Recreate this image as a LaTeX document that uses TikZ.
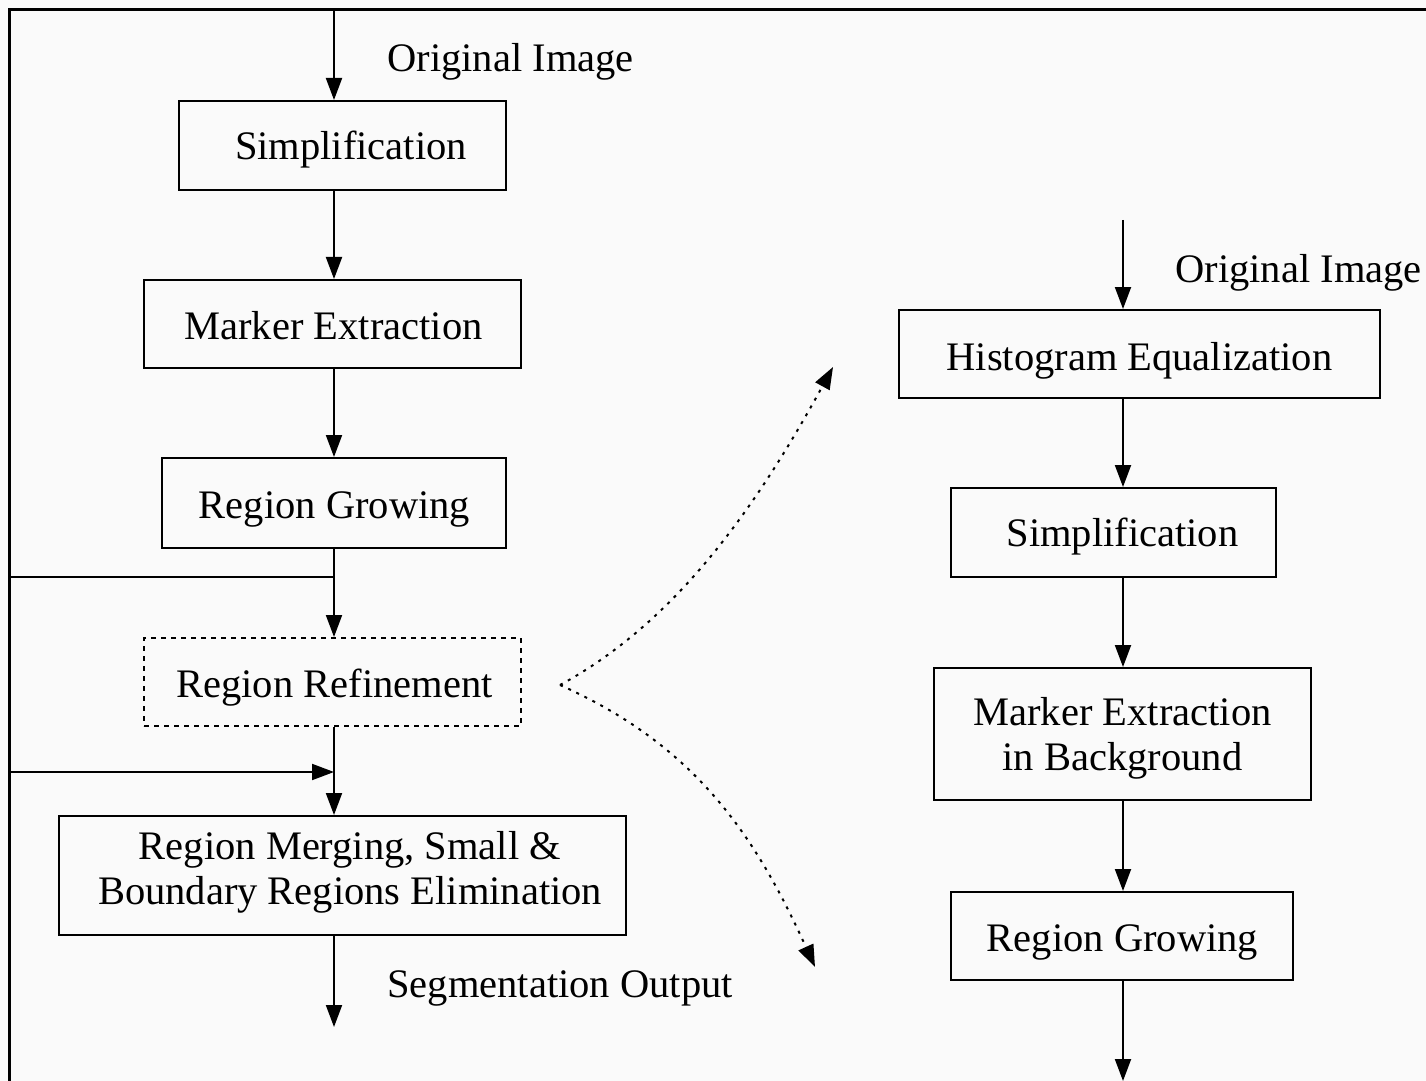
\documentclass[tikz,border=0pt]{standalone}
\usepackage{fontspec}
\setmainfont{Liberation Serif}
\usetikzlibrary{arrows.meta}
\begin{document}
\begin{tikzpicture}[x=0.5pt,y=-0.5pt,
  font=\fontsize{20.25pt}{22.5pt}\selectfont,
  box/.style={draw, line width=1pt, inner sep=0pt},
  dbox/.style={box, dash pattern=on 2.5pt off 2.5pt},
  txt/.style={anchor=base, inner sep=0pt},
  arr/.style={line width=1pt, -{Triangle[length=11pt,width=8pt]}},
  darr/.style={line width=1pt, dash pattern=on 1.5pt off 3pt, -{Triangle[length=11pt,width=8pt]}},
  plain/.style={line width=1pt},
  lbl/.style={anchor=base west, inner sep=0pt}]
\useasboundingbox[fill={rgb,255:red,250;green,250;blue,250}] (0,0) rectangle (1426,1081);
% frame
\draw[line width=1.5pt] (1426,10) -- (9,10) -- (9,1081);
% column coordinates
\coordinate (L) at (334,0);
\coordinate (R) at (1123,0);
% left column boxes
\node[box, minimum width=163.5pt, minimum height=44.5pt] (s1) at (342.5,145.5) {};
\node[box, minimum width=188.5pt, minimum height=44pt] (m1) at (332.5,324) {};
\node[box, minimum width=172pt, minimum height=45pt] (g1) at (334,503) {};
\node[dbox, minimum width=188.5pt, minimum height=44pt] (r1) at (332.5,682) {};
\node[box, minimum width=283.5pt, minimum height=59.5pt] (mg) at (342.5,875.5) {};
% left column texts
\node[txt] (s1t) at (351,160) {Simplification};
\node[txt] (m1t) at (333.5,339) {Marker Extraction};
\node[txt] (g1t) at (334.5,518) {Region Growing};
\node[txt] (r1t) at (334.5,697) {Region Refinement};
\node[txt] (mga) at (350,859) {Region Merging, Small \&};
\node[txt] (mgb) at (350,904) {Boundary Regions Elimination};
\coordinate (t1) at (334,10);
\coordinate (b1) at (334,1027);
\coordinate (f1) at (9,577);
\coordinate (j1) at (334,577);
\coordinate (f2) at (9,772);
\coordinate (j2) at (334,772);
\node[lbl] (o1) at (387,72) {Original Image};
\node[lbl] (so) at (387,997) {Segmentation Output};
\draw[arr] (t1) -- (s1.north -| L);
\draw[arr] (s1.south -| L) -- (m1.north -| L);
\draw[arr] (m1.south -| L) -- (g1.north -| L);
\draw[arr] (g1.south -| L) -- (r1.north -| L);
\draw[plain] (f1) -- (j1);
\draw[arr] (r1.south -| L) -- (mg.north -| L);
\draw[arr] (f2) -- (j2);
\draw[arr] (mg.south -| L) -- (b1);
% right column boxes
\node[box, minimum width=240.5pt, minimum height=44pt] (h) at (1139.5,354) {};
\node[box, minimum width=162.5pt, minimum height=44.5pt] (s2) at (1113.5,532.5) {};
\node[box, minimum width=188.5pt, minimum height=66pt] (m2) at (1122.5,734) {};
\node[box, minimum width=171pt, minimum height=44pt] (g2) at (1122,936) {};
% right column texts
\node[txt] (ht) at (1139.5,370) {Histogram Equalization};
\node[txt] (s2t) at (1122.5,546) {Simplification};
\node[txt] (m2a) at (1122.5,725) {Marker Extraction};
\node[txt] (m2b) at (1122.5,770) {in Background};
\node[txt] (g2t) at (1122.5,951) {Region Growing};
\coordinate (t2) at (1123,220);
\coordinate (b2) at (1123,1081);
\node[lbl] (o2) at (1175,283) {Original Image};
\draw[arr] (t2) -- (h.north -| R);
\draw[arr] (h.south -| R) -- (s2.north -| R);
\draw[arr] (s2.south -| R) -- (m2.north -| R);
\draw[arr] (m2.south -| R) -- (g2.north -| R);
\draw[arr] (g2.south -| R) -- (b2);
% dotted expansion arrows
\coordinate (v) at (560,685);
\coordinate (u) at (833,367);
\coordinate (d) at (815,967);
\draw[darr] (v) .. controls (680,620) and (760,500) .. (u);
\draw[darr] (v) .. controls (695,745) and (755,835) .. (d);
\end{tikzpicture}
\end{document}
